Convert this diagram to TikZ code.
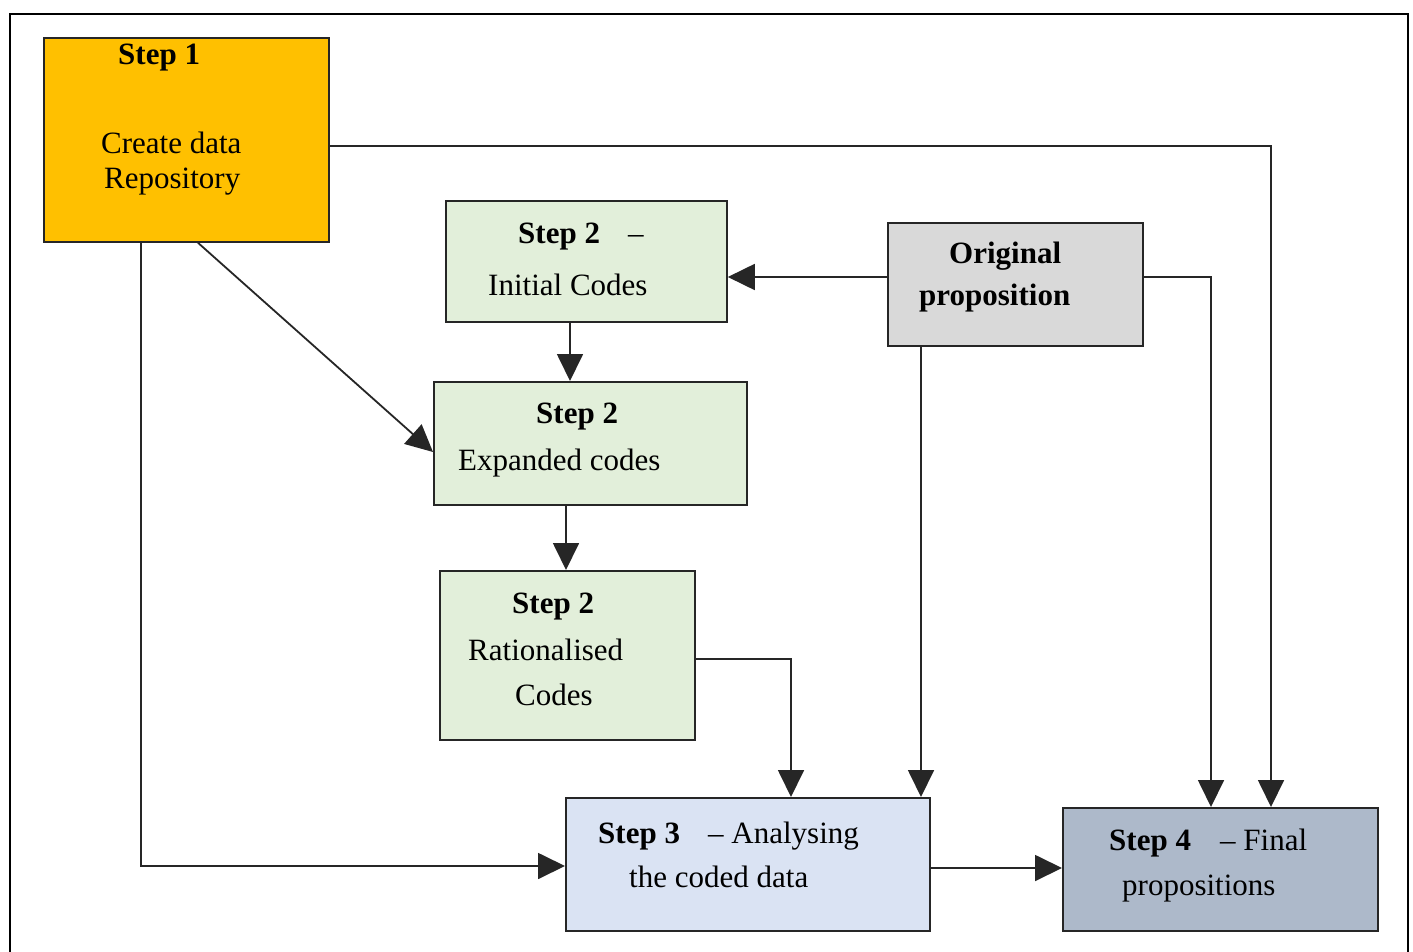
\documentclass[tikz,border=0pt]{standalone}
\usepackage{fontspec}
\setmainfont{Liberation Serif}
\usetikzlibrary{arrows.meta}
\definecolor{stepone}{HTML}{FFC000}
\definecolor{steptwo}{HTML}{E2EFDA}
\definecolor{origgray}{HTML}{D9D9D9}
\definecolor{stepthree}{HTML}{DAE3F3}
\definecolor{stepfour}{HTML}{ADB9CA}
\tikzset{
  box/.style={draw=black!85, line width=1.8pt, rectangle, inner sep=0pt, anchor=north west},
  txt/.style={anchor=base west, inner sep=0pt, font=\fontsize{31}{36}\selectfont},
  conn/.style={draw=black!85, line width=1.8pt},
  arr/.style={conn, -{Triangle[length=27pt, width=26pt]}},
}
\begin{document}
\begin{tikzpicture}[x=1pt, y=-1pt]
\useasboundingbox (0,0) rectangle (1413,952);
\clip (0,0) rectangle (1413,952);
% outer frame, open at the bottom edge
\draw[line width=2.6pt] (10,970) -- (10,14) -- (1408,14) -- (1408,970);

% boxes
\node[box, fill=stepone, minimum width=285pt, minimum height=204pt] (s1) at (43,37) {};
\node[box, fill=steptwo, minimum width=281pt, minimum height=121pt] (s2a) at (445,200) {};
\node[box, fill=steptwo, minimum width=313pt, minimum height=123pt] (s2b) at (433,381) {};
\node[box, fill=steptwo, minimum width=255pt, minimum height=169pt] (s2c) at (439,570) {};
\node[box, fill=origgray, minimum width=255pt, minimum height=123pt] (orig) at (887,222) {};
\node[box, fill=stepthree, minimum width=364pt, minimum height=133pt] (s3) at (565,797) {};
\node[box, fill=stepfour, minimum width=315pt, minimum height=123pt] (s4) at (1062,807) {};

% texts
\node[txt] (t1a) at (118,65) {\textbf{Step 1}};
\node[txt] (t1b) at (101,154) {Create data};
\node[txt] (t1c) at (104,189) {Repository};
\node[txt] (t2a) at (518,243) {\textbf{Step 2}\hspace*{28pt}–};
\node[txt] (t2b) at (488,295) {Initial Codes};
\node[txt] (t3a) at (536,423) {\textbf{Step 2}};
\node[txt] (t3b) at (458,470) {Expanded codes};
\node[txt] (t4a) at (512,613) {\textbf{Step 2}};
\node[txt] (t4b) at (468,660) {Rationalised};
\node[txt] (t4c) at (515,705) {Codes};
\node[txt] (to1) at (949,263) {\textbf{Original}};
\node[txt] (to2) at (919,305) {\textbf{proposition}};
\node[txt] (t5a) at (598,843) {\textbf{Step 3}};
\node[txt] (t5b) at (708,843) {– Analysing};
\node[txt] (t5c) at (629,887) {the coded data};
\node[txt] (t6a) at (1109,850) {\textbf{Step 4}};
\node[txt] (t6b) at (1220,850) {– Final};
\node[txt] (t6c) at (1122,895) {propositions};

% connectors
\draw[arr] ([yshift=-109pt]s1.north east) -| ([xshift=209pt]s4.north west);
\draw[arr] ([xshift=98pt]s1.south west) |- ([yshift=-69pt]s3.north west);
\draw[arr] ([xshift=155pt]s1.south west) -- ([yshift=-71pt]s2b.north west);
\coordinate (o1) at ([yshift=-55pt]orig.north west);
\draw[arr] (o1) -- (o1 -| s2a.east);
\coordinate (o2) at ([xshift=34pt]orig.south west);
\draw[arr] (o2) -- (o2 |- s3.north);
\draw[arr] ([yshift=-55pt]orig.north east) -| ([xshift=149pt]s4.north west);
\coordinate (a1) at ([xshift=125pt]s2a.south west);
\draw[arr] (a1) -- (a1 |- s2b.north);
\coordinate (b1) at ([xshift=133pt]s2b.south west);
\draw[arr] (b1) -- (b1 |- s2c.north);
\draw[arr] ([yshift=-89pt]s2c.north east) -| ([xshift=226pt]s3.north west);
\coordinate (c1) at ([yshift=-71pt]s3.north east);
\draw[arr] (c1) -- (c1 -| s4.west);
\end{tikzpicture}
\end{document}
